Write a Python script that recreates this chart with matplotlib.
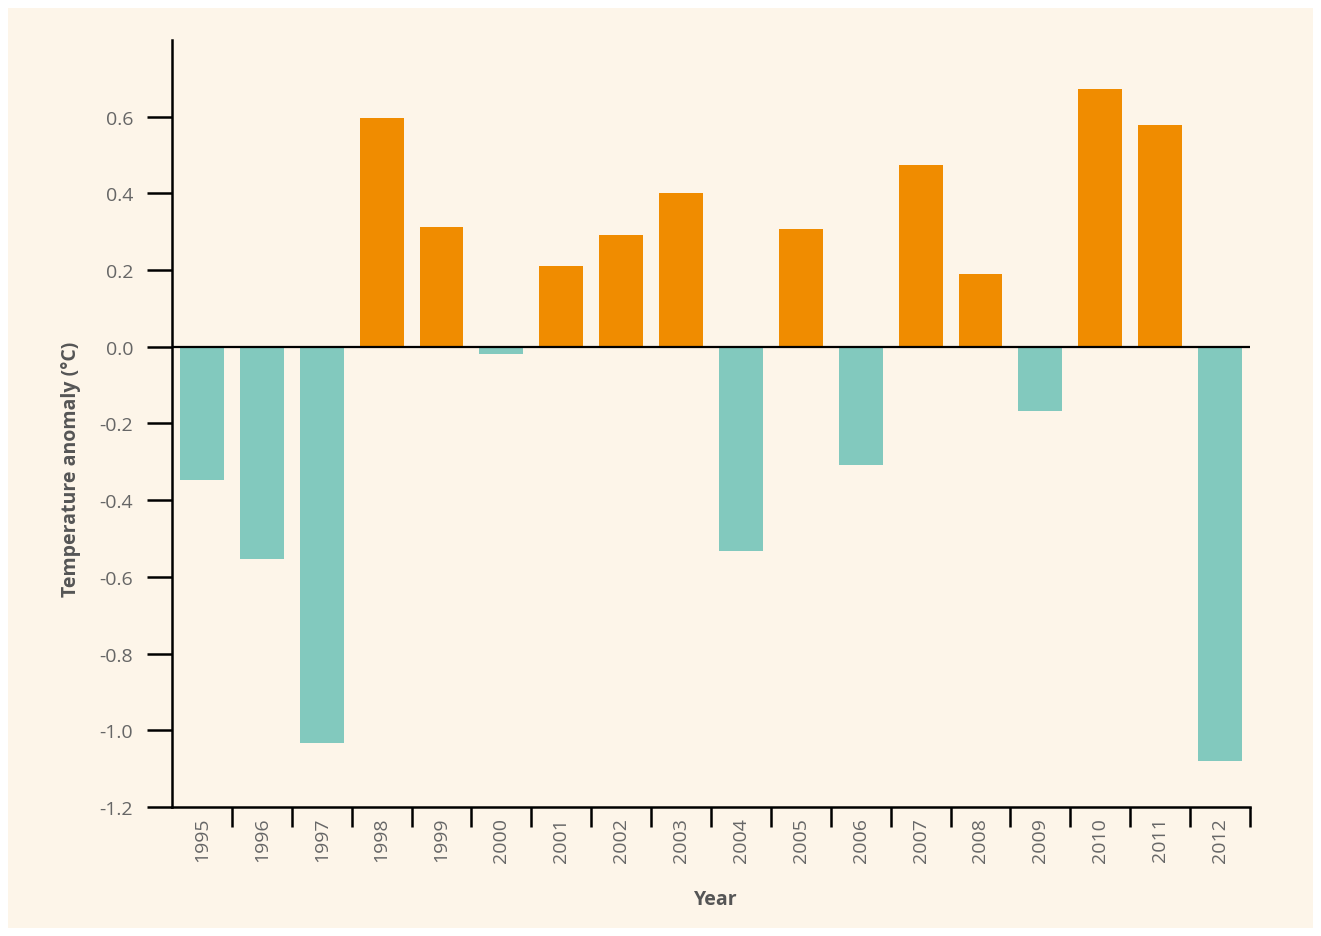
import matplotlib
matplotlib.use("Agg")
import matplotlib.pyplot as plt
from matplotlib.patches import Rectangle
import numpy as np

years = ["1995", "1996", "1997", "1998", "1999", "2000", "2001", "2002", "2003",
         "2004", "2005", "2006", "2007", "2008", "2009", "2010", "2011", "2012"]
anomaly = [-0.347, -0.553, -1.033, 0.597, 0.313, -0.018, 0.211, 0.292, 0.402,
           -0.532, 0.308, -0.308, 0.475, 0.190, -0.167, 0.673, 0.579, -1.080]
y_ticks = [-1.2, -1.0, -0.8, -0.6, -0.4, -0.2, 0.0, 0.2, 0.4, 0.6]

POS_COLOR = "#F08C00"
NEG_COLOR = "#82C9BE"
BG = "#FDF5E9"
TEXT = "#666666"
TITLE = "#555555"

plt.rcParams["font.family"] = ["Open Sans", "DejaVu Sans"]

W, H = 1321, 937
fig = plt.figure(figsize=(W / 100, H / 100), dpi=100, facecolor="white")
fig.patches.append(Rectangle((8 / W, 1 - 929 / H), (1313 - 8) / W, (929 - 9) / H,
                             transform=fig.transFigure, facecolor=BG,
                             edgecolor="none", zorder=-10))

ax = fig.add_axes([172 / W, 1 - 808 / H, (1250 - 172) / W, (808 - 41) / H])
ax.set_zorder(1)
ax.set_facecolor("none")

x = np.arange(len(years))
colors = [POS_COLOR if v >= 0 else NEG_COLOR for v in anomaly]
ax.bar(x, anomaly, width=0.733, color=colors, zorder=2)

ax.set_xlim(-0.5, len(years) - 0.5)
ax.set_ylim(-1.2, 0.8)

# zero line
ax.axhline(0, color="black", lw=1.6, zorder=3)

for s in ["top", "right"]:
    ax.spines[s].set_visible(False)
for s in ["left", "bottom"]:
    ax.spines[s].set_linewidth(1.8)
    ax.spines[s].set_color("black")

ax.set_yticks(y_ticks)
ax.set_yticklabels([f"{v:.1f}" for v in y_ticks])
ax.tick_params(axis="y", length=18, width=1.8, pad=10, labelsize=14, labelcolor=TEXT)

# ticks on band boundaries, labels at band centres
ax.set_xticks(x + 0.5)
ax.set_xticklabels([])
ax.tick_params(axis="x", which="major", length=14.5, width=1.8)
ax.set_xticks(x, minor=True)
ax.set_xticklabels(years, minor=True, rotation=90)
ax.tick_params(axis="x", which="minor", length=0, pad=7, labelsize=14, labelcolor=TEXT)

fig.text(71 / W, 1 - 469 / H, "Temperature anomaly (°C)", rotation=90,
         ha="center", va="center", fontsize=14, fontweight="bold", color=TITLE)
fig.text(716 / W, 1 - 900 / H, "Year", ha="center", va="center",
         fontsize=14, fontweight="bold", color=TITLE)

fig.savefig("out.png", dpi=100, facecolor=fig.get_facecolor())
